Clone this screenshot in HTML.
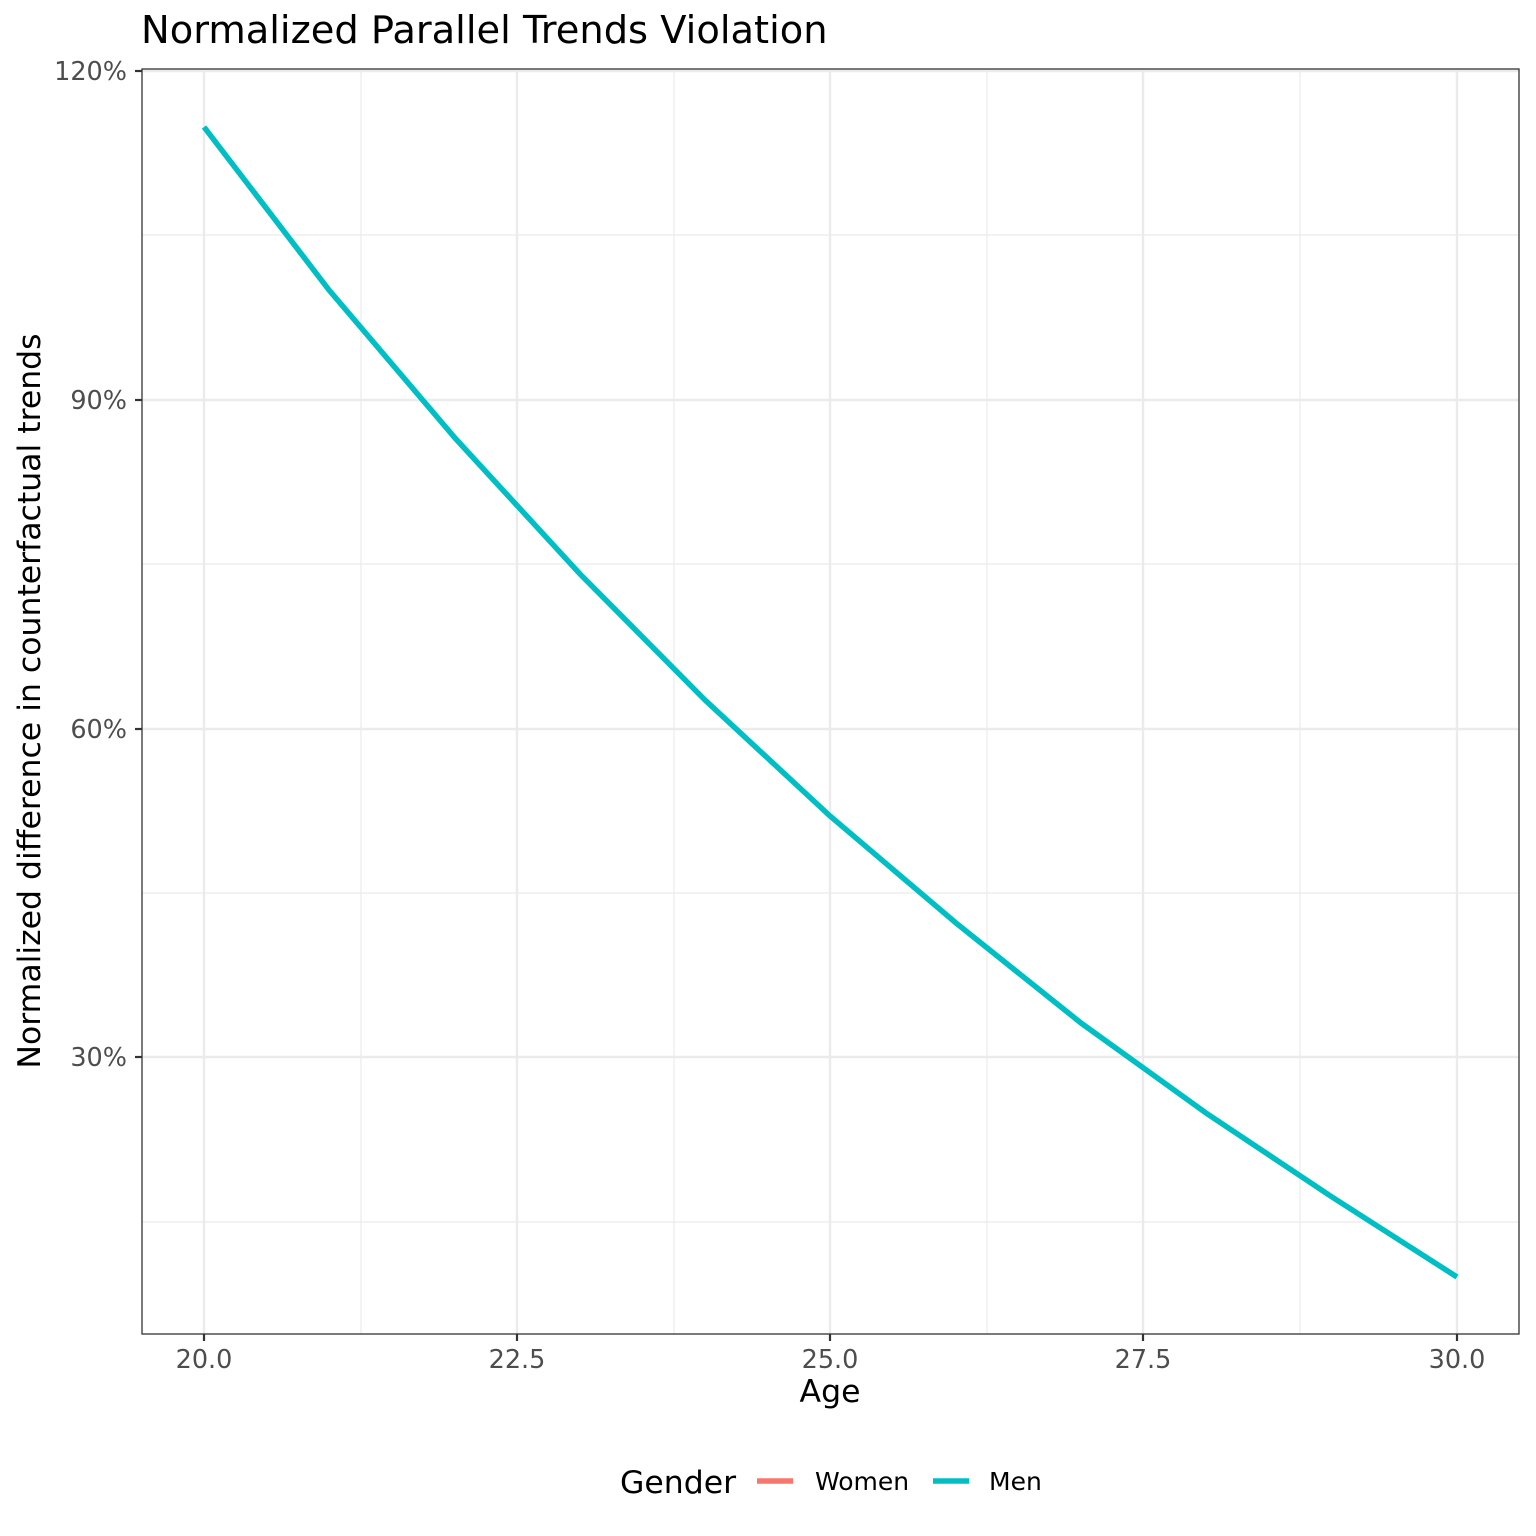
<!DOCTYPE html>
<html><head><meta charset="utf-8"><style>body{margin:0;background:#fff}svg{display:block}</style></head><body>
<svg width="1536" height="1536" xmlns="http://www.w3.org/2000/svg" font-family="DejaVu Sans, Liberation Sans, sans-serif">
<rect width="1536" height="1536" fill="#fff"/>
<g stroke="#ebebeb" stroke-width="1.2">
<line x1="142" x2="1519" y1="235" y2="235"/><line x1="142" x2="1519" y1="564" y2="564"/><line x1="142" x2="1519" y1="893" y2="893"/><line x1="142" x2="1519" y1="1222" y2="1222"/>
<line y1="69" y2="1334" x1="361" x2="361"/><line y1="69" y2="1334" x1="674" x2="674"/><line y1="69" y2="1334" x1="987" x2="987"/><line y1="69" y2="1334" x1="1300" x2="1300"/>
</g>
<g stroke="#ebebeb" stroke-width="2.4">
<line x1="142" x2="1519" y1="71" y2="71"/><line x1="142" x2="1519" y1="400" y2="400"/><line x1="142" x2="1519" y1="729" y2="729"/><line x1="142" x2="1519" y1="1057" y2="1057"/>
<line y1="69" y2="1334" x1="204" x2="204"/><line y1="69" y2="1334" x1="517" x2="517"/><line y1="69" y2="1334" x1="830" x2="830"/><line y1="69" y2="1334" x1="1143" x2="1143"/><line y1="69" y2="1334" x1="1457" x2="1457"/>
</g>
<polyline fill="none" stroke="#00BFC4" stroke-width="5.5" points="204,127 329,290 455,438 580,574 705,700 830,816 956,923 1081,1023 1206,1113 1332,1197 1457,1277"/>
<rect x="142" y="69" width="1377" height="1265" fill="none" stroke="#333" stroke-width="1.3"/>
<g stroke="#333" stroke-width="2.2">
<line x1="135" x2="142" y1="71" y2="71"/><line x1="135" x2="142" y1="400" y2="400"/><line x1="135" x2="142" y1="729" y2="729"/><line x1="135" x2="142" y1="1057" y2="1057"/>
<line y1="1334" y2="1341" x1="204" x2="204"/><line y1="1334" y2="1341" x1="517" x2="517"/><line y1="1334" y2="1341" x1="830" x2="830"/><line y1="1334" y2="1341" x1="1143" x2="1143"/><line y1="1334" y2="1341" x1="1457" x2="1457"/>
</g>
<g fill="#4d4d4d" font-size="25.5" text-anchor="end">
<text x="127" y="80">120%</text><text x="127" y="409">90%</text><text x="127" y="738">60%</text><text x="127" y="1066">30%</text>
</g>
<g fill="#4d4d4d" font-size="25.5" text-anchor="middle">
<text x="204" y="1368">20.0</text><text x="517" y="1368">22.5</text><text x="830" y="1368">25.0</text><text x="1143" y="1368">27.5</text><text x="1457" y="1368">30.0</text>
</g>
<text x="830" y="1402" font-size="31.5" text-anchor="middle">Age</text>
<text transform="translate(40,701) rotate(-90)" font-size="31.5" text-anchor="middle">Normalized difference in counterfactual trends</text>
<text x="141" y="43" font-size="38.4">Normalized Parallel Trends Violation</text>
<text x="620" y="1493" font-size="31.5">Gender</text>
<line x1="757" x2="793" y1="1481" y2="1481" stroke="#F8766D" stroke-width="5.5"/>
<text x="815" y="1490" font-size="25">Women</text>
<line x1="933" x2="969" y1="1481" y2="1481" stroke="#00BFC4" stroke-width="5.5"/>
<text x="989" y="1490" font-size="25">Men</text>
</svg>
</body></html>
